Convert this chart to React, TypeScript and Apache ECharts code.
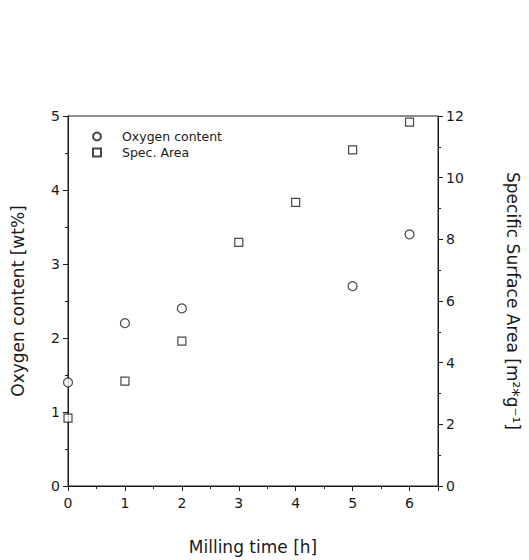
import React, { useEffect, useRef } from "react";
import * as echarts from "echarts";

const millingTime = [0, 1, 2, 3, 4, 5, 6];
const oxygenTime = [0, 1, 2, 5, 6];
const oxygenContent = [1.4, 2.2, 2.4, 2.7, 3.4];
const specArea = [2.2, 3.4, 4.7, 7.9, 9.2, 10.9, 11.8];

const FONT = "DejaVu Sans";
const INK = "#1a1a1a";

export default function App() {
  const ref = useRef<HTMLDivElement>(null);
  useEffect(() => {
    const chart = echarts.init(ref.current!, null, { renderer: "svg" });
    chart.setOption({
      animation: false,
      backgroundColor: "#fff",
      textStyle: { fontFamily: FONT, color: INK },
      grid: {
        left: 68,
        right: 89,
        top: 116,
        bottom: 66,
        show: true,
        borderColor: INK,
        borderWidth: 1,
      },
      legend: {
        orient: "vertical",
        left: 87,
        top: 125,
        itemWidth: 8,
        itemHeight: 8,
        itemGap: 3,
        textStyle: { fontFamily: FONT, fontSize: 12.5, color: INK, padding: [0, 0, 0, 16] },
        data: ["Oxygen content", "Spec. Area"],
      },
      xAxis: {
        type: "value",
        min: 0,
        max: 6.5,
        interval: 1,
        name: "Milling time [h]",
        nameLocation: "middle",
        nameGap: 52,
        nameTextStyle: { fontFamily: FONT, fontSize: 17, color: INK },
        axisLine: { lineStyle: { color: INK } },
        axisTick: { show: true, length: 5, lineStyle: { color: INK } },
        minorTick: { show: true, splitNumber: 2, length: 3, lineStyle: { color: INK } },
        splitLine: { show: false },
        axisLabel: {
          fontFamily: FONT,
          fontSize: 14,
          color: INK,
          margin: 10,
          formatter: (v: number) => (Number.isInteger(v) ? String(v) : ""),
        },
      },
      yAxis: [
        {
          type: "value",
          min: 0,
          max: 5,
          interval: 1,
          name: "Oxygen content [wt%]",
          nameLocation: "middle",
          nameGap: 42,
          nameTextStyle: { fontFamily: FONT, fontSize: 17, color: INK },
          axisLine: { lineStyle: { color: INK } },
          axisTick: { show: true, length: 5, lineStyle: { color: INK } },
          minorTick: { show: true, splitNumber: 2, length: 3, lineStyle: { color: INK } },
          splitLine: { show: false },
          axisLabel: { fontFamily: FONT, fontSize: 14, color: INK, margin: 8 },
        },
        {
          type: "value",
          position: "right",
          min: 0,
          max: 12,
          interval: 2,
          name: "Specific Surface Area [m²*g⁻¹]",
          nameLocation: "middle",
          nameRotate: -90,
          nameGap: 66,
          nameTextStyle: { fontFamily: FONT, fontSize: 17, color: INK },
          axisLine: { lineStyle: { color: INK } },
          axisTick: { show: true, length: 5, lineStyle: { color: INK } },
          minorTick: { show: true, splitNumber: 2, length: 3, lineStyle: { color: INK } },
          splitLine: { show: false },
          axisLabel: { fontFamily: FONT, fontSize: 14, color: INK, margin: 8 },
        },
      ],
      series: [
        {
          name: "Oxygen content",
          type: "scatter",
          yAxisIndex: 0,
          symbol: "circle",
          symbolSize: 9,
          itemStyle: { color: "#fff", borderColor: INK, borderWidth: 1.2 },
          data: oxygenTime.map((t, i) => [t, oxygenContent[i]]),
        },
        {
          name: "Spec. Area",
          type: "scatter",
          yAxisIndex: 1,
          symbol: "rect",
          symbolSize: 8,
          itemStyle: { color: "#fff", borderColor: INK, borderWidth: 1.2 },
          data: millingTime.map((t, i) => [t, specArea[i]]),
        },
      ],
    });
    return () => chart.dispose();
  }, []);
  return <div ref={ref} style={{ width: 529, height: 560, position: "absolute", left: 0, top: 0 }} />;
}
